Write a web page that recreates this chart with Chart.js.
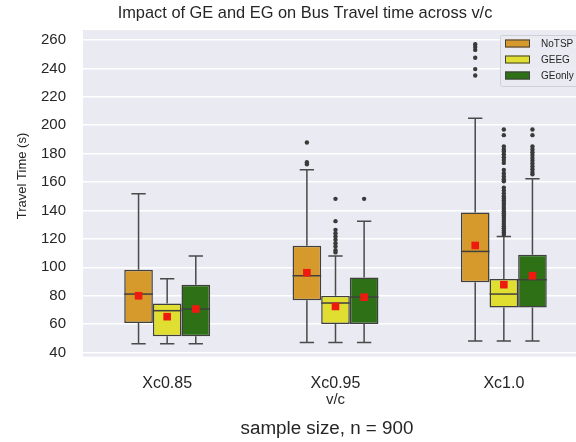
<!DOCTYPE html>
<html>
<head>
<meta charset="utf-8">
<title>Bus travel time box plot</title>
<script src="https://cdn.jsdelivr.net/npm/chart.js@4.4.1/dist/chart.umd.min.js"></script>
<style>
  html, body { margin: 0; padding: 0; overflow: hidden; background: #fff; }
  #wrap { width: 610px; height: 442px; }
</style>
</head>
<body>
<div id="wrap"><canvas id="boxChart" width="610" height="442"></canvas></div>
<script>
// v/c scenarios on the x axis, one box per signal strategy
const categories = ['Xc0.85', 'Xc0.95', 'Xc1.0'];
const seriesNames = ['NoTSP', 'GEEG', 'GEonly'];
const seriesColors = ['#d59a2b', '#dfde31', '#2e7016'];
const yTicks = [40, 60, 80, 100, 120, 140, 160, 180, 200, 220, 240, 260];

// box statistics (seconds), rows follow seriesNames, columns follow categories
const q1 = [
    [60.9, 76.8, 89.6],
    [51.5, 60.1, 71.8],
    [51.5, 60.1, 71.8]
];
const q3 = [
    [98.3, 115.2, 138.6],
    [74.6, 80.0, 91.8],
    [87.8, 92.9, 108.9]
];
const medians = [
    [81.2, 94.1, 111.2],
    [69.5, 74.9, 81.2],
    [70.7, 79.1, 91.3]
];
const means = [
    [80.0, 96.2, 115.4],
    [65.3, 72.5, 87.8],
    [70.7, 79.0, 94.1]
];
const whiskerLow = [
    [46.3, 47.2, 48.2],
    [46.3, 47.2, 48.2],
    [46.3, 47.2, 48.2]
];
const whiskerHigh = [
    [151.7, 168.6, 204.9],
    [92.0, 108.0, 121.7],
    [108.0, 132.5, 162.3]
];
const outliers = [
    [[], [172.5, 174, 187.8], [235, 239.5, 247.5, 253, 255, 257]],
    [[], [110.5, 112, 114.7, 117, 119.4, 121.7, 124, 126.4, 132.5, 148.2],
        [123, 124.5, 126, 127.5, 129, 130.5, 132, 133.5, 135, 136.5, 138, 139.5, 141, 142.5,
         144, 145.5, 147, 148.5, 150, 152, 154, 156, 160.5, 162, 164, 166, 168.5,
         173.5, 175.5, 177.5, 179.5, 181.5, 183, 185, 193, 197]],
    [[], [148.2], [165.5, 167, 169, 171, 173, 175, 177, 179, 181, 183, 185, 193, 197]]
];

const textColor = '#262626';
const edgeColor = '#3f3f3f';
const fontFamily = '"Liberation Sans", Arial, sans-serif';

// grey panel behind the plot
const panel = {
    id: 'panel',
    beforeDraw(chart) {
        const a = chart.chartArea;
        const ctx = chart.ctx;
        ctx.save();
        ctx.fillStyle = '#eaeaf2';
        ctx.fillRect(a.left, a.top, a.right - a.left, a.bottom - a.top);
        ctx.restore();
    }
};

// whiskers, medians, fliers and means on top of the IQR bars
const boxStats = {
    id: 'boxStats',
    afterDatasetsDraw(chart) {
        const ctx = chart.ctx;
        const y = chart.scales.y;
        ctx.save();
        seriesNames.forEach((name, s) => {
            const meta = chart.getDatasetMeta(s);
            meta.data.forEach((bar, c) => {
                const x = bar.x;
                const half = bar.width / 2;
                const cap = bar.width / 4;
                const hi = y.getPixelForValue(whiskerHigh[s][c]);
                const lo = y.getPixelForValue(whiskerLow[s][c]);

                ctx.strokeStyle = '#4a4a4a';
                ctx.lineWidth = 1.5;
                ctx.beginPath();
                ctx.moveTo(x, y.getPixelForValue(q3[s][c]));
                ctx.lineTo(x, hi);
                ctx.moveTo(x, y.getPixelForValue(q1[s][c]));
                ctx.lineTo(x, lo);
                ctx.moveTo(x - cap, hi);
                ctx.lineTo(x + cap, hi);
                ctx.moveTo(x - cap, lo);
                ctx.lineTo(x + cap, lo);
                ctx.stroke();

                // median
                const med = y.getPixelForValue(medians[s][c]);
                ctx.strokeStyle = edgeColor;
                ctx.beginPath();
                ctx.moveTo(x - half, med);
                ctx.lineTo(x + half, med);
                ctx.stroke();

                // fliers
                ctx.fillStyle = '#3a3a3a';
                outliers[s][c].forEach(v => {
                    ctx.beginPath();
                    ctx.arc(x, y.getPixelForValue(v), 2.2, 0, Math.PI * 2);
                    ctx.fill();
                });

                // mean marker
                const m = y.getPixelForValue(means[s][c]);
                ctx.fillStyle = '#ee1a10';
                ctx.fillRect(x - 3.8, m - 3.8, 7.6, 7.6);
            });
        });
        ctx.restore();
    }
};

// title, footnote, y axis label and the framed legend
const extras = {
    id: 'extras',
    afterDraw(chart) {
        const ctx = chart.ctx;
        ctx.save();
        ctx.fillStyle = textColor;
        ctx.textAlign = 'center';
        ctx.textBaseline = 'middle';
        ctx.font = '16.4px ' + fontFamily;
        ctx.fillText('Impact of GE and EG on Bus Travel time across v/c', 305, 13.5);
        ctx.font = '18.8px ' + fontFamily;
        ctx.fillText('sample size, n = 900', 327, 429);
        ctx.font = '13px ' + fontFamily;
        ctx.translate(22, 176);
        ctx.rotate(-Math.PI / 2);
        ctx.fillText('Travel Time (s)', 0, 0);
        ctx.restore();

        ctx.save();
        const lx = 500, ly = 35;
        ctx.fillStyle = 'rgba(234, 234, 242, 0.9)';
        ctx.strokeStyle = '#cfcfd6';
        ctx.lineWidth = 1;
        ctx.beginPath();
        ctx.roundRect(lx + 0.5, ly + 0.5, 90, 51, 2);
        ctx.fill();
        ctx.stroke();
        ctx.font = '10px ' + fontFamily;
        ctx.textBaseline = 'middle';
        seriesNames.forEach((name, i) => {
            const ry = ly + 8.5 + i * 16;
            ctx.fillStyle = seriesColors[i];
            ctx.fillRect(lx + 5, ry - 4, 25, 8);
            ctx.strokeStyle = edgeColor;
            ctx.strokeRect(lx + 5.5, ry - 3.5, 24, 7);
            ctx.fillStyle = textColor;
            ctx.fillText(name, lx + 41, ry + 0.5);
        });
        ctx.restore();
    }
};

const datasets = seriesNames.map((name, s) => ({
    label: name,
    data: categories.map((c, i) => [q1[s][i], q3[s][i]]),
    backgroundColor: seriesColors[s],
    borderColor: edgeColor,
    borderWidth: 1.5,
    borderSkipped: false,
    categoryPercentage: 0.51,
    barPercentage: 1.0
}));

new Chart(document.getElementById('boxChart'), {
    type: 'bar',
    data: { labels: categories, datasets: datasets },
    plugins: [panel, boxStats, extras],
    options: {
        responsive: false,
        animation: false,
        layout: { padding: { left: 0, right: 22, top: 30, bottom: 25 } },
        plugins: {
            legend: { display: false },
            tooltip: { enabled: false }
        },
        scales: {
            x: {
                grid: { display: false },
                border: { display: false },
                ticks: {
                    color: textColor,
                    padding: 9,
                    font: { family: fontFamily, size: 16 }
                },
                title: {
                    display: true,
                    text: 'v/c',
                    color: textColor,
                    font: { family: fontFamily, size: 15 },
                    padding: { top: 0, bottom: 8 }
                },
                afterFit(scale) { scale.height = 60.4; }
            },
            y: {
                min: 37.2,
                max: 267,
                afterBuildTicks(scale) { scale.ticks = yTicks.map(v => ({ value: v })); },
                grid: { color: '#ffffff', lineWidth: 1.6, drawTicks: false },
                border: { display: false },
                ticks: {
                    color: textColor,
                    padding: 17,
                    font: { family: fontFamily, size: 15 }
                },
                afterFit(scale) { scale.width = 83; }
            }
        }
    }
});
</script>
</body>
</html>
